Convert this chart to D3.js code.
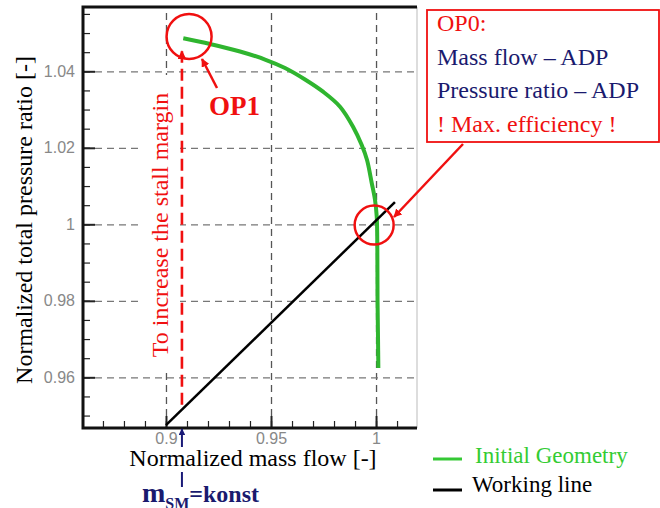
<!DOCTYPE html>
<html>
<head>
<meta charset="utf-8">
<script src="https://cdn.jsdelivr.net/npm/d3@7"></script>
<style>
  body { margin: 0; background: #fff; }
  text { font-family: "Liberation Serif", "Times New Roman", serif; }
  .tick text { font-family: "Liberation Sans", Arial, sans-serif; font-size: 16px; fill: #888; }
</style>
</head>
<body>
<div id="chart"></div>
<script>
// Characteristic curve (Initial Geometry)
const massFlow = [0.90824, 0.92095, 0.93524, 0.94714, 0.95667, 0.96619, 0.97476, 0.98286,
                  0.98905, 0.99319, 0.99571, 0.99795, 0.99952, 1.00033, 1.00062, 1.00071,
                  1.00095, 1.00110];
const pressure = [1.04863, 1.04714, 1.04518, 1.04308, 1.04086, 1.03786, 1.03467, 1.03075,
                  1.02552, 1.02073, 1.01681, 1.01080, 1.00635, 1.00199, 0.99328, 0.98021,
                  0.96975, 0.96243];

// Working line
const workMassFlow = [0.9, 1.0090];
const workPressure = [0.9475, 1.0058];

// ticks
const xTicks = [0.9, 0.95, 1];
const xTickLabels = ["0.9", "0.95", "1"];
const yTicks = [0.96, 0.98, 1, 1.02, 1.04];
const yTickLabels = ["0.96", "0.98", "1", "1.02", "1.04"];

// operating points
const op1 = {m: 0.9110, p: 1.0491};
const op0 = {m: 0.9991, p: 0.9998};
const stallMargin = {m: 0.9076, from: 0.9528, to: 1.0463};

const margin = {top: 7, right: 243, bottom: 80, left: 83};
const width = 660 - margin.left - margin.right;
const height = 508 - margin.top - margin.bottom;

const root = d3.select("#chart")
    .append("svg")
    .attr("width", 660)
    .attr("height", 508);

const defs = root.append("defs");
function marker(id, color) {
    defs.append("marker")
        .attr("id", id)
        .attr("viewBox", "0 0 10 10")
        .attr("refX", 9).attr("refY", 5)
        .attr("markerWidth", 3.4).attr("markerHeight", 3.4)
        .attr("markerUnits", "strokeWidth")
        .attr("orient", "auto")
        .append("path")
        .attr("d", "M0,0 L10,5 L0,10 z")
        .attr("fill", color);
}
marker("redHead", "#f01010");
marker("blueHead", "#1a1a78");

const svg = root.append("g")
    .attr("transform", `translate(${margin.left},${margin.top})`);

const x = d3.scaleLinear().domain([0.8605, 1.0195]).range([0, width]);
const y = d3.scaleLinear().domain([0.94675, 1.05681]).range([height, 0]);

// grid lines (dashed)
svg.append("g")
    .attr("transform", `translate(0,${height})`)
    .call(d3.axisBottom(x).tickValues(xTicks).tickSize(-height).tickFormat(""))
    .call(g => g.select(".domain").remove())
    .selectAll("line")
    .attr("stroke", "#555").attr("stroke-width", 1.3).attr("stroke-dasharray", "7,5");

svg.append("g")
    .call(d3.axisLeft(y).tickValues(yTicks).tickSize(-width).tickFormat(""))
    .call(g => g.select(".domain").remove())
    .selectAll("line")
    .attr("stroke", "#777").attr("stroke-width", 1.3).attr("stroke-dasharray", "7,5");

// white box behind the rotated note
svg.append("rect")
    .attr("x", 140 - margin.left).attr("y", 75 - margin.top)
    .attr("width", 40).attr("height", 295)
    .attr("fill", "#fff");

// minor ticks
const xMinor = d3.range(87, 102).map(d => d / 100);
const yMinor = d3.range(190, 212).map(d => d / 200);
svg.append("g")
    .attr("transform", `translate(0,${height})`)
    .call(d3.axisBottom(x).tickValues(xMinor).tickSize(-7).tickFormat(""))
    .call(g => g.select(".domain").remove())
    .selectAll("line").attr("stroke", "#222").attr("stroke-width", 1.2);
svg.append("g")
    .call(d3.axisLeft(y).tickValues(yMinor).tickSize(-7).tickFormat(""))
    .call(g => g.select(".domain").remove())
    .selectAll("line").attr("stroke", "#222").attr("stroke-width", 1.2);

// major ticks + labels
svg.append("g")
    .attr("transform", `translate(0,${height})`)
    .call(d3.axisBottom(x).tickValues(xTicks).tickSize(-12).tickPadding(5)
        .tickFormat((d, i) => xTickLabels[i]))
    .call(g => g.select(".domain").remove())
    .selectAll("line").attr("stroke", "#222").attr("stroke-width", 2);
svg.append("g")
    .call(d3.axisLeft(y).tickValues(yTicks).tickSize(-12).tickPadding(8)
        .tickFormat((d, i) => yTickLabels[i]))
    .call(g => g.select(".domain").remove())
    .selectAll("line").attr("stroke", "#222").attr("stroke-width", 2);

// frame
svg.append("line").attr("x1", width).attr("x2", width).attr("y1", 0).attr("y2", height)
    .attr("stroke", "#bbb").attr("stroke-width", 1);
svg.append("path")
    .attr("d", `M${width},0 H0 V${height} H${width}`)
    .attr("fill", "none").attr("stroke", "#111").attr("stroke-width", 3);

// curves
svg.append("path")
    .datum(massFlow.map((m, i) => [m, pressure[i]]))
    .attr("d", d3.line().x(d => x(d[0])).y(d => y(d[1])).curve(d3.curveCatmullRom))
    .attr("fill", "none").attr("stroke", "#2fb52f").attr("stroke-width", 4);

svg.append("path")
    .datum(workMassFlow.map((m, i) => [m, workPressure[i]]))
    .attr("d", d3.line().x(d => x(d[0])).y(d => y(d[1])))
    .attr("fill", "none").attr("stroke", "#000").attr("stroke-width", 2.5);

// stall margin arrow
svg.append("line")
    .attr("x1", x(stallMargin.m)).attr("x2", x(stallMargin.m))
    .attr("y1", y(stallMargin.from)).attr("y2", y(stallMargin.to) + 4)
    .attr("stroke", "#f01010").attr("stroke-width", 2.6)
    .attr("stroke-dasharray", "12,6")
    .attr("marker-end", "url(#redHead)");

svg.append("text")
    .attr("transform", `translate(${168 - margin.left},${225 - margin.top}) rotate(-90)`)
    .attr("text-anchor", "middle")
    .style("font-size", "24px")
    .style("fill", "#f01010")
    .text("To increase the stall margin");

// circles
svg.append("circle").attr("cx", x(op1.m)).attr("cy", y(op1.p)).attr("r", 22.5)
    .attr("fill", "none").attr("stroke", "#f01010").attr("stroke-width", 2.5);
svg.append("circle").attr("cx", x(op0.m)).attr("cy", y(op0.p)).attr("r", 19.5)
    .attr("fill", "none").attr("stroke", "#f01010").attr("stroke-width", 2.5);

// OP1 label + arrow
root.append("line").attr("x1", 217).attr("y1", 88).attr("x2", 202).attr("y2", 59)
    .attr("stroke", "#f01010").attr("stroke-width", 2.5).attr("marker-end", "url(#redHead)");
root.append("text").attr("x", 209).attr("y", 115)
    .style("font-size", "27px").style("font-weight", "bold").style("fill", "#f01010")
    .text("OP1");

// OP0 box
root.append("rect").attr("x", 427).attr("y", 10).attr("width", 232).attr("height", 132)
    .attr("fill", "#fff").attr("stroke", "#f01010").attr("stroke-width", 1.8);
const boxLines = [
    {t: "OP0:", c: "#f01010", y: 31},
    {t: "Mass flow \u2013 ADP", c: "#1a1a6e", y: 65},
    {t: "Pressure ratio \u2013 ADP", c: "#1a1a6e", y: 98},
    {t: "! Max. efficiency !", c: "#f01010", y: 132}
];
root.selectAll(".box-line")
    .data(boxLines)
    .enter()
    .append("text")
    .attr("class", "box-line")
    .attr("x", 437).attr("y", d => d.y)
    .style("font-size", "24px")
    .style("fill", d => d.c)
    .text(d => d.t);
root.append("line").attr("x1", 463).attr("y1", 144).attr("x2", 394).attr("y2", 217)
    .attr("stroke", "#f01010").attr("stroke-width", 2.5).attr("marker-end", "url(#redHead)");

// axis titles
root.append("text")
    .attr("x", 253).attr("y", 466)
    .attr("text-anchor", "middle")
    .style("font-size", "24px")
    .text("Normalized mass flow [-]");
root.append("text")
    .attr("transform", "translate(32,220) rotate(-90)")
    .attr("text-anchor", "middle")
    .style("font-size", "24px")
    .text("Normalized total pressure ratio [-]");

// m_SM = konst
const mx = margin.left + x(stallMargin.m);
root.append("line").attr("x1", mx).attr("x2", mx).attr("y1", 447).attr("y2", 429)
    .attr("stroke", "#1a1a78").attr("stroke-width", 2).attr("marker-end", "url(#blueHead)");
root.append("line").attr("x1", mx).attr("x2", mx).attr("y1", 472).attr("y2", 487)
    .attr("stroke", "#1a1a78").attr("stroke-width", 2);
const msm = root.append("text").attr("x", 142).attr("y", 502)
    .style("fill", "#1a1a6e").style("font-weight", "bold");
msm.append("tspan").style("font-size", "28px").text("m");
msm.append("tspan").attr("dy", 7).style("font-size", "16px").text("SM");
msm.append("tspan").attr("dy", -7).style("font-size", "24px").text("=konst");

// legend
const legend = [
    {name: "Initial Geometry", color: "#35c835", y: 459},
    {name: "Working line", color: "#000", y: 490}
];
root.selectAll(".legend-line")
    .data(legend)
    .enter()
    .append("line")
    .attr("x1", 433).attr("x2", 462)
    .attr("y1", d => d.y).attr("y2", d => d.y)
    .attr("stroke", d => d.color).attr("stroke-width", 3);
root.selectAll(".legend-text")
    .data(legend)
    .enter()
    .append("text")
    .attr("x", (d, i) => i === 0 ? 475 : 472)
    .attr("y", d => d.y + (d.y === 459 ? 4 : 2))
    .style("font-size", "23px")
    .style("fill", d => d.color === "#000" ? "#000" : "#33cc33")
    .text(d => d.name);
</script>
</body>
</html>
